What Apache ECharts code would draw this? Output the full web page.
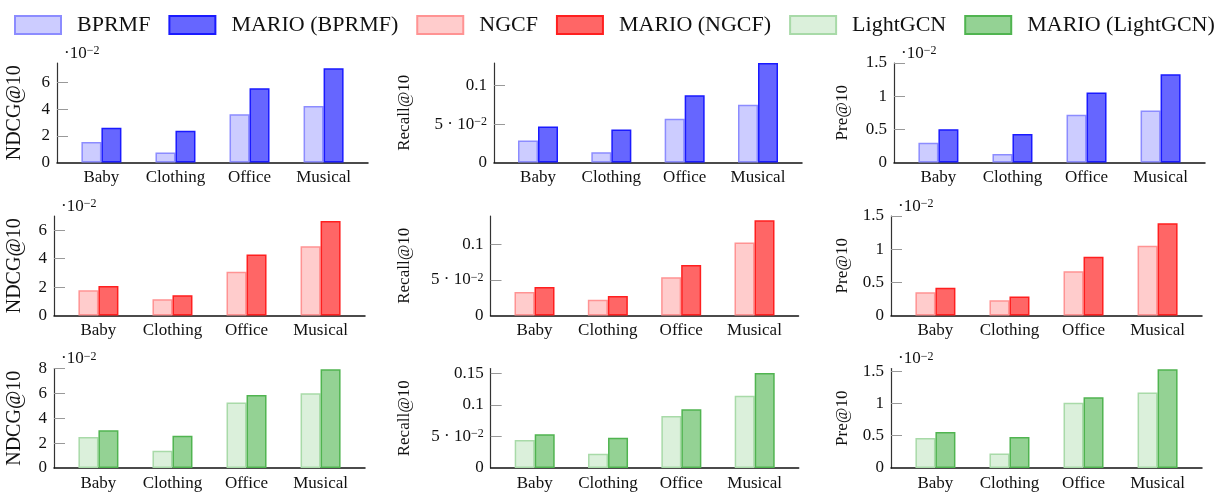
<!DOCTYPE html>
<html>
<head>
<meta charset="utf-8">
<script src="https://cdn.jsdelivr.net/npm/echarts@6/dist/echarts.min.js"></script>
<style>
  html, body { margin: 0; padding: 0; background: #fff; }
  #chart { width: 1225px; height: 496px; }
</style>
</head>
<body>
<div id="chart"></div>
<script>
// categories and methods
const categories = ['Baby', 'Clothing', 'Office', 'Musical'];
const methods = ['BPRMF', 'MARIO (BPRMF)', 'NGCF', 'MARIO (NGCF)', 'LightGCN', 'MARIO (LightGCN)'];
const metrics = ['NDCG@10', 'Recall@10', 'Pre@10'];

// NDCG@10 and Pre@10 are in units of 10^-2, Recall@10 is raw
const bprmfNdcg = [1.54, 0.75, 3.62, 4.23];
const marioBprmfNdcg = [2.60, 2.37, 5.56, 7.05];
const bprmfRecall = [0.0287, 0.0134, 0.0569, 0.0752];
const marioBprmfRecall = [0.047, 0.043, 0.0875, 0.1296];
const bprmfPre = [0.296, 0.13, 0.719, 0.785];
const marioBprmfPre = [0.503, 0.428, 1.057, 1.329];

const ngcfNdcg = [1.77, 1.15, 3.08, 4.87];
const marioNgcfNdcg = [2.08, 1.43, 4.29, 6.64];
const ngcfRecall = [0.0332, 0.022, 0.0538, 0.1028];
const marioNgcfRecall = [0.0402, 0.0276, 0.071, 0.134];
const ngcfPre = [0.351, 0.231, 0.666, 1.051];
const marioNgcfPre = [0.42, 0.285, 0.886, 1.392];

const lightgcnNdcg = [2.49, 1.38, 5.26, 6.02];
const marioLightgcnNdcg = [3.03, 2.59, 5.86, 7.94];
const lightgcnRecall = [0.0445, 0.0225, 0.0826, 0.1148];
const marioLightgcnRecall = [0.0537, 0.0482, 0.0932, 0.151];
const lightgcnPre = [0.465, 0.224, 1.01, 1.17];
const marioLightgcnPre = [0.556, 0.481, 1.096, 1.529];

// tick values
const ndcgTicks = [0, 2, 4, 6];
const ndcgTicksWide = [0, 2, 4, 6, 8];
const recallTicks = [0, 0.05, 0.1];
const recallTicksWide = [0, 0.05, 0.1, 0.15];
const preTicks = [0, 0.5, 1, 1.5];

// per row: series pairs (light, dark) for each metric column
const rowValues = [
  [[bprmfNdcg, marioBprmfNdcg], [bprmfRecall, marioBprmfRecall], [bprmfPre, marioBprmfPre]],
  [[ngcfNdcg, marioNgcfNdcg], [ngcfRecall, marioNgcfRecall], [ngcfPre, marioNgcfPre]],
  [[lightgcnNdcg, marioLightgcnNdcg], [lightgcnRecall, marioLightgcnRecall], [lightgcnPre, marioLightgcnPre]]
];
const rowTicks = [
  [ndcgTicks, recallTicks, preTicks],
  [ndcgTicks, recallTicks, preTicks],
  [ndcgTicksWide, recallTicksWide, preTicks]
];
const yMax = [
  [7.45, 0.1296, 1.5],
  [7.0, 0.14, 1.5],
  [8, 0.158, 1.54]
];

// styles
const FONT = 'Liberation Serif';
const fills = ['#ccccff', '#6666ff', '#ffcccc', '#ff6666', '#dbf0db', '#94d294'];
const borders = ['#8c8cff', '#1a1aff', '#ff9393', '#ff1f1f', '#a8daa8', '#50b450'];

// layout
const gridLeft = [[57, 494, 894], [54, 490.5, 891], [54, 490.7, 891]];
const gridTop = [63, 216, 368.5];
const gridWidth = [311, 308, 311];
const gridHeight = 99.5;
const titleX = [25, 413, 851];

function fmtTick(col, v) {
  if (col === 1 && Math.abs(v - 0.05) < 1e-9) return '{n|5 · 10}{s|−2}';
  return String(+v.toFixed(2));
}

const grids = [], xAxes = [], yAxes = [], series = [], graphics = [];
let k = 0;
for (let r = 0; r < 3; r++) {
  for (let c = 0; c < 3; c++) {
    const left = gridLeft[r][c];
    grids.push({ left: left, top: gridTop[r], width: gridWidth[c], height: gridHeight });
    xAxes.push({
      gridIndex: k, type: 'value', min: -0.6, max: 3.6,
      axisLine: { show: true, onZero: false, lineStyle: { color: '#111', width: 1.5 } },
      axisTick: { show: false },
      splitLine: { show: false },
      axisLabel: {
        customValues: [0, 1, 2, 3],
        formatter: v => categories[Math.round(v)],
        margin: 7, fontSize: 17, fontFamily: FONT, color: '#111'
      }
    });
    const ticks = rowTicks[r][c];
    yAxes.push({
      gridIndex: k, type: 'value', min: 0, max: yMax[r][c],
      axisLine: { show: true, onZero: false, lineStyle: { color: '#333', width: 1.2 } },
      axisTick: { show: true, inside: true, length: 11, customValues: ticks.filter(t => t > 0), lineStyle: { color: '#999', width: 1 } },
      splitLine: { show: false },
      axisLabel: {
        customValues: ticks,
        formatter: v => fmtTick(c, v),
        margin: 7, fontSize: 17, fontFamily: FONT, color: '#111',
        rich: {
          n: { fontSize: 17, fontFamily: FONT, color: '#111' },
          s: { fontSize: 12, fontFamily: FONT, color: '#111', verticalAlign: 'top' }
        }
      },
      name: metrics[c], nameLocation: 'middle', nameRotate: 90,
      nameGap: left - titleX[c],
      nameTextStyle: { fontSize: c === 0 ? 20 : 17, fontFamily: FONT, color: '#111' }
    });
    const pair = rowValues[r][c];
    for (let j = 0; j < 2; j++) {
      const m = r * 2 + j;
      series.push({
        type: 'bar', name: methods[m], xAxisIndex: k, yAxisIndex: k,
        barWidth: 20, barGap: '0%',
        itemStyle: { color: fills[m], borderColor: borders[m], borderWidth: 1.5 },
        data: pair[j].map((v, i) => [i, v])
      });
    }
    if (c !== 1) {
      graphics.push({
        type: 'text', left: left + 7, top: gridTop[r] - 18,
        style: {
          text: '{a|·10}{s|−2}',
          rich: {
            a: { fontSize: 17, fontFamily: FONT, fill: '#111' },
            s: { fontSize: 12, fontFamily: FONT, fill: '#111', verticalAlign: 'top' }
          }
        }
      });
    }
    k++;
  }
}

const myChart = echarts.init(document.getElementById('chart'));
const option = {
  animation: false,
  backgroundColor: '#fff',
  legend: {
    data: methods,
    left: 9, top: 9,
    icon: 'rect',
    itemWidth: 46, itemHeight: 18, itemGap: 18,
    textStyle: { fontSize: 22, fontFamily: FONT, color: '#111', padding: [0, 0, 0, 11] }
  },
  grid: grids,
  xAxis: xAxes,
  yAxis: yAxes,
  series: series,
  graphic: graphics
};
myChart.setOption(option);
</script>
</body>
</html>
